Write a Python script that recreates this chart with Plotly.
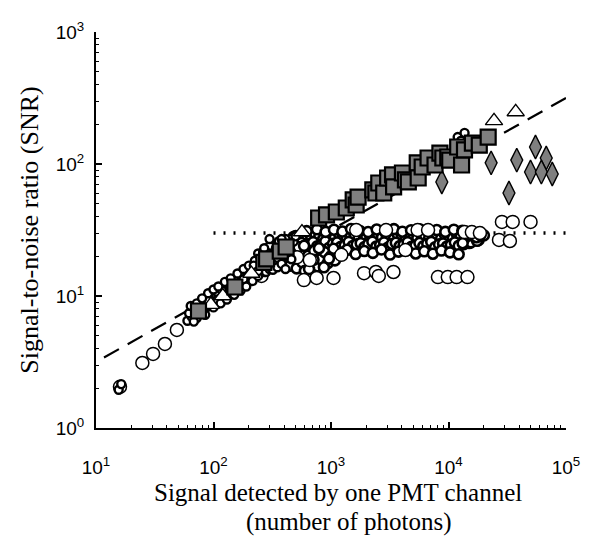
import plotly.graph_objects as go

# ---------------- data ----------------
# gray filled squares
sq_x = [74.5, 152, 268, 283, 370, 415, 785, 916, 1110, 1349, 1545, 1637, 1700, 2270, 2410,
        2550, 2810, 3035, 3340, 3410, 4055, 4300, 4550, 5420, 5520, 5970, 6700, 7680,
        8450, 8950, 9860, 10240, 11970, 12920, 13680, 15970, 18280, 21760]
sq_y = [7.7, 11.7, 18.0, 19.1, 21.9, 23.5, 39, 41.1, 43.3, 46.4, 53.4, 48.9, 56.2, 63.6, 60.3,
        71.8, 60.3, 78.3, 82.6, 67, 85.5, 75.7, 73.1, 102, 78.3, 94.9, 111, 98.3,
        121, 111, 113, 107, 134.5, 98.3, 128, 144, 139, 160]

# open triangles
tri_x = [24400, 37300, 566, 95, 120, 210]
tri_y = [212, 248, 30.5, 8.6, 10.0, 14.8]

# gray diamonds
dia_x = [8770, 23060, 38100, 55000, 67900, 49900, 61700, 76400, 32700]
dia_y = [73.1, 102, 107, 134.5, 111, 86.9, 86.9, 84, 60.3]

# large open circles
cir_x = [16, 24.8, 30.6, 38.6, 48.8,
         256, 588, 755, 1050, 1910, 2410, 2550, 3400, 8130, 9860, 11730, 14500,
         514, 660, 1225, 4300,
         1640, 2940, 5460, 6700, 13700, 15800, 18500,
         26900, 28500, 33300, 35200, 49900, 230, 300]
cir_y = [2.05, 3.11, 3.64, 4.33, 5.53,
         14.2, 13.2, 13.7, 13.7, 14.9, 15.2, 14.2, 15.2, 13.9, 13.9, 13.9, 13.9,
         19.7, 18.7, 20.5, 22.3,
         31.6, 31.6, 31.6, 31.6, 30.5, 30.5, 30.0,
         26.6, 36.4, 26.1, 36.4, 36.4, 17.0, 19.2]

# small open markers along the rising branch and in the transition zone
sm_x = [15.6, 16.4, 60, 65, 70, 72, 78, 80, 85, 88, 92, 95, 100, 105, 110, 115, 120, 125,
        130, 135, 140, 148, 155, 160, 170, 175, 185, 195, 200, 210, 220, 230, 240, 250,
        260, 275, 290, 300, 320, 340, 360, 380, 400, 420, 450, 480, 500, 11970, 13700, 12800,
        62, 68, 75, 83, 90, 98, 108, 118, 128, 138, 150, 165, 180, 190, 205, 225, 245, 265,
        285, 310, 330, 350, 390, 410,
        260, 280, 300, 320, 340, 360, 280, 320, 350, 400, 430, 460, 380, 300, 3000, 6000,
        90, 100, 110, 125, 140, 160, 180, 200, 225, 250, 280, 64, 72, 80,
        85, 100, 115, 130, 150, 170, 190, 215, 240, 270,
        220, 240, 280, 300, 320, 350, 380, 410, 240, 270]
sm_y = [1.95, 2.15, 6.5, 7.0, 7.2, 6.8, 7.6, 8.2, 8.0, 8.8, 8.4, 9.3, 9.0, 9.8, 10.2, 9.6,
        10.8, 11.3, 10.5, 11.8, 12.4, 11.2, 12.8, 13.5, 12.6, 14.2, 14.8, 13.9, 15.6, 16.3,
        15.2, 17.4, 18.2, 16.8, 19.5, 20.6, 18.9, 21.8, 22.5, 21.0, 24.2, 23.0, 25.5, 24.5,
        27.0, 25.8, 28.3, 160, 172, 150,
        7.4, 6.4, 8.0, 7.4, 9.2, 8.5, 9.4, 11.0, 10.0, 11.2, 13.2, 12.0, 13.4, 15.5, 14.6,
        16.2, 17.0, 18.0, 21.0, 20.0, 24.0, 22.8, 24.0, 27.0,
        20, 22, 24, 21, 23, 26, 18.5, 18, 19.5, 20, 22, 19, 27, 27, 70, 90,
        10.5, 11.2, 11.8, 12.8, 13.6, 14.8, 16.0, 17.0, 18.5, 19.8, 21.5, 8.4, 8.8, 9.6,
        7.2, 8.2, 8.8, 9.4, 10.2, 11.0, 11.8, 13.0, 14.2, 15.2,
        17.0, 15.5, 15.2, 16.0, 15.8, 16.5, 17.5, 16.0, 21.0, 23.0]

# medium open circles forming the saturated band (SNR ~ 15-33)
band_x = [420, 450, 480, 520, 550, 600, 640, 680, 720, 760, 800, 850, 900, 950, 1000,
          1050, 1100, 1150, 1200, 1260, 1320, 1400, 1480, 1550, 1620, 1700, 1800, 1900,
          2000, 2100, 2200, 2350, 2500, 2650, 2800, 2950, 3100, 3300, 3500, 3700, 3900,
          4100, 4300, 4600, 4900, 5200, 5500, 5800, 6100, 6500, 6900, 7300, 7700, 8100,
          8600, 9100, 9600, 10200, 10800, 11500, 12200, 13000, 14000, 15000, 16500, 18000,
          20000,
          430, 500, 560, 620, 700, 780, 870, 980, 1080, 1180, 1290, 1420, 1580, 1750, 1950,
          2150, 2400, 2700, 3000, 3400, 3800, 4200, 4700, 5300, 5900, 6600, 7500, 8400,
          9300, 10500, 11800, 13500, 15500, 17500,
          500, 540, 585, 630, 680, 735, 795, 860, 930, 1000, 1080, 1170, 1260, 1360, 1470,
          1590, 1720, 1860, 2000, 2160, 2340, 2520, 2720, 2940, 3180, 3430, 3700, 4000,
          4320, 4670, 5040, 5440, 5880, 6350, 6860, 7410, 8000, 8640, 9330, 10080, 10900,
          11750, 12700, 13700, 14800, 16000, 17300, 18700,
          520, 560, 610, 655, 705, 765, 825, 895, 965, 1040, 1125, 1215, 1310, 1415, 1530,
          1655, 1790, 1930, 2080, 2250, 2430, 2620, 2830, 3060, 3300, 3560, 3850, 4160,
          4490, 4850, 5240, 5660, 6110, 6600, 7130, 7700, 8320, 8990, 9700, 10480, 11320,
          12230, 13200,
          620, 760, 900, 1060, 1250, 1480, 1750, 2070, 2450, 2900, 3430, 4050, 4800, 5680,
          6720, 7950, 9400, 11100, 13100,
          700, 830, 980, 1160, 1370, 1620, 1920, 2270, 2690, 3180, 3760, 4450, 5260, 6220,
          7360, 8700, 10300, 12200,
          450, 480, 510, 540, 570, 600, 640, 680, 720, 770, 820, 880, 940, 1000, 1080, 1150,
          470, 530, 590, 650, 710, 790, 870, 960, 1050]
band_y = [26.0, 23.5, 28.0, 24.5, 21.8, 27.2, 25.0, 29.5, 23.0, 26.8, 28.6, 24.2, 27.5, 25.6,
          29.0, 26.5, 24.0, 28.2, 27.0, 25.2, 29.6, 26.2, 28.0, 24.6, 27.8, 29.2, 26.0, 28.5,
          25.0, 27.6, 29.8, 26.4, 28.2, 25.5, 27.2, 29.0, 26.8, 28.4, 25.8, 27.9, 29.5, 26.3,
          28.1, 25.0, 27.4, 29.1, 26.6, 28.7, 25.4, 27.0, 29.3, 26.1, 28.0, 24.8, 27.5, 29.0,
          26.0, 28.3, 25.6, 27.2, 29.6, 26.7, 28.4, 25.2, 27.8, 26.5, 28.8,
          22.5, 21.0, 24.8, 22.2, 23.8, 21.5, 23.0, 24.6, 22.0, 23.5, 24.4, 22.6, 23.9, 24.8,
          22.4, 23.6, 24.9, 22.8, 24.0, 23.2, 24.5, 22.7, 23.8, 24.2, 23.0, 24.6, 23.4, 24.1,
          22.9, 24.3, 23.5, 24.7, 25.5, 26.2,
          28.5, 27.2, 29.4, 28.0, 27.5, 29.8, 28.3, 27.0, 29.1, 28.6, 27.8, 29.5, 28.2, 27.4,
          29.0, 28.8, 27.6, 29.6, 28.1, 27.3, 29.2, 28.7, 27.9, 29.7, 28.4, 27.1, 29.3, 28.9,
          27.7, 29.4, 28.2, 27.5, 29.0, 28.6, 27.8, 29.8, 28.3, 27.2, 29.1, 28.5, 27.6, 29.5,
          28.0, 27.4, 29.2, 28.7, 27.9, 29.0,
          24.0, 25.2, 23.4, 24.8, 25.6, 23.8, 24.4, 25.9, 23.2, 24.9, 25.4, 23.6, 24.2, 25.7,
          23.9, 24.6, 25.1, 23.5, 24.7, 25.8, 23.7, 24.3, 25.5, 23.3, 24.8, 25.3, 23.9, 24.5,
          25.6, 23.6, 24.1, 25.2, 23.8, 24.9, 25.7, 23.4, 24.6, 25.0, 23.7, 24.4, 25.5, 24.0,
          25.1,
          31.0, 32.0, 30.6, 31.8, 30.8, 32.2, 31.2, 30.5, 31.9, 31.0, 32.1, 30.7, 31.5, 32.0,
          30.9, 31.6, 30.6, 31.8, 31.2,
          21.0, 22.2, 20.5, 21.6, 22.4, 20.8, 21.9, 21.2, 22.5, 20.6, 21.7, 22.3, 21.0, 21.8,
          20.9, 22.1, 21.4, 20.7,
          17.0, 19.5, 16.2, 21.0, 18.0, 15.5, 20.2, 17.4, 22.0, 16.8, 19.0, 21.5, 17.8, 20.0,
          18.6, 21.2, 22.5, 23.5, 24.0, 16.0, 18.8, 23.0, 16.5, 19.2, 22.8]

# reference curves
ideal_x = [11.7, 100, 1000, 10000, 100000]
ideal_y = [v ** 0.5 for v in ideal_x]
sat_x = [100, 100000]
sat_y = [30, 30]

tick_vals_x = [10, 100, 1000, 10000, 100000]
tick_text_x = ["10<sup>1</sup>", "10<sup>2</sup>", "10<sup>3</sup>", "10<sup>4</sup>", "10<sup>5</sup>"]
tick_vals_y = [1, 10, 100, 1000]
tick_text_y = ["10<sup>0</sup>", "10<sup>1</sup>", "10<sup>2</sup>", "10<sup>3</sup>"]

x_title_lines = ["Signal detected by one PMT channel", "(number of photons)"]
y_title = "Signal-to-noise ratio (SNR)"

minor_x = [k * 10 ** d for d in range(1, 5) for k in range(2, 10)]
minor_y = [k * 10 ** d for d in range(0, 3) for k in range(2, 10)]

GRAY = "#7f7f7f"
fig = go.Figure()

fig.add_trace(go.Scatter(x=sat_x, y=sat_y, mode="lines",
                         line=dict(color="black", width=3.5, dash="2px,8px")))
fig.add_trace(go.Scatter(x=ideal_x, y=ideal_y, mode="lines", line_shape="spline",
                         line=dict(color="black", width=2.2, dash="17px,10px")))

fig.add_trace(go.Scatter(x=band_x, y=band_y, mode="markers",
                         marker=dict(symbol="circle", size=10, color="white",
                                     line=dict(color="black", width=2.6))))
fig.add_trace(go.Scatter(x=cir_x, y=cir_y, mode="markers",
                         marker=dict(symbol="circle", size=13, color="white",
                                     line=dict(color="black", width=1.5))))
fig.add_trace(go.Scatter(x=sm_x, y=sm_y, mode="markers",
                         marker=dict(symbol="circle", size=8, color="white",
                                     line=dict(color="black", width=2.4))))
fig.add_trace(go.Scatter(x=tri_x, y=tri_y, mode="markers",
                         marker=dict(symbol="triangle-up", size=15, color="white",
                                     line=dict(color="black", width=1.4))))
fig.add_trace(go.Scatter(x=dia_x, y=dia_y, mode="markers",
                         marker=dict(symbol="diamond-tall", size=17, color=GRAY,
                                     line=dict(color="black", width=1.4))))
fig.add_trace(go.Scatter(x=sq_x, y=sq_y, mode="markers",
                         marker=dict(symbol="square", size=15, color=GRAY,
                                     line=dict(color="black", width=2.2))))

axis_common = dict(
    showline=True, linecolor="black", linewidth=2, mirror=False,
    ticks="inside", ticklen=6, tickwidth=1.5, tickcolor="black",
    showgrid=False, zeroline=False,
    tickfont=dict(family="Liberation Sans, Arial", size=19, color="black"),
)
title_font = dict(family="Liberation Serif, Times New Roman", size=26, color="black")
xtitle_font = dict(family="Liberation Serif, Times New Roman", size=25, color="black")

fig.update_layout(
    width=592, height=538,
    margin=dict(l=96, r=19, t=32, b=110),
    paper_bgcolor="white", plot_bgcolor="white",
    showlegend=False,
    font=dict(family="Liberation Serif, Times New Roman", color="black"),
    xaxis=dict(type="log", range=[1, 5], tickvals=tick_vals_x, ticktext=tick_text_x,
               ticklabelstandoff=21,
               minor=dict(tickvals=minor_x, ticks="inside", ticklen=3, tickwidth=1,
                          tickcolor="black", showgrid=False),
               **axis_common),
    yaxis=dict(type="log", range=[0, 3], tickvals=tick_vals_y, ticktext=tick_text_y,
               ticklabelstandoff=6,
               minor=dict(tickvals=minor_y, ticks="inside", ticklen=3, tickwidth=1,
                          tickcolor="black", showgrid=False),
               title=dict(text=y_title, font=title_font, standoff=10),
               **axis_common),
    annotations=[
        dict(text=x_title_lines[0], xref="paper", yref="paper", x=0.514, y=-0.162,
             xanchor="center", yanchor="middle", showarrow=False, font=xtitle_font),
        dict(text=x_title_lines[1], xref="paper", yref="paper", x=0.539, y=-0.237,
             xanchor="center", yanchor="middle", showarrow=False, font=xtitle_font),
    ],
)

fig.write_html("out.html")
